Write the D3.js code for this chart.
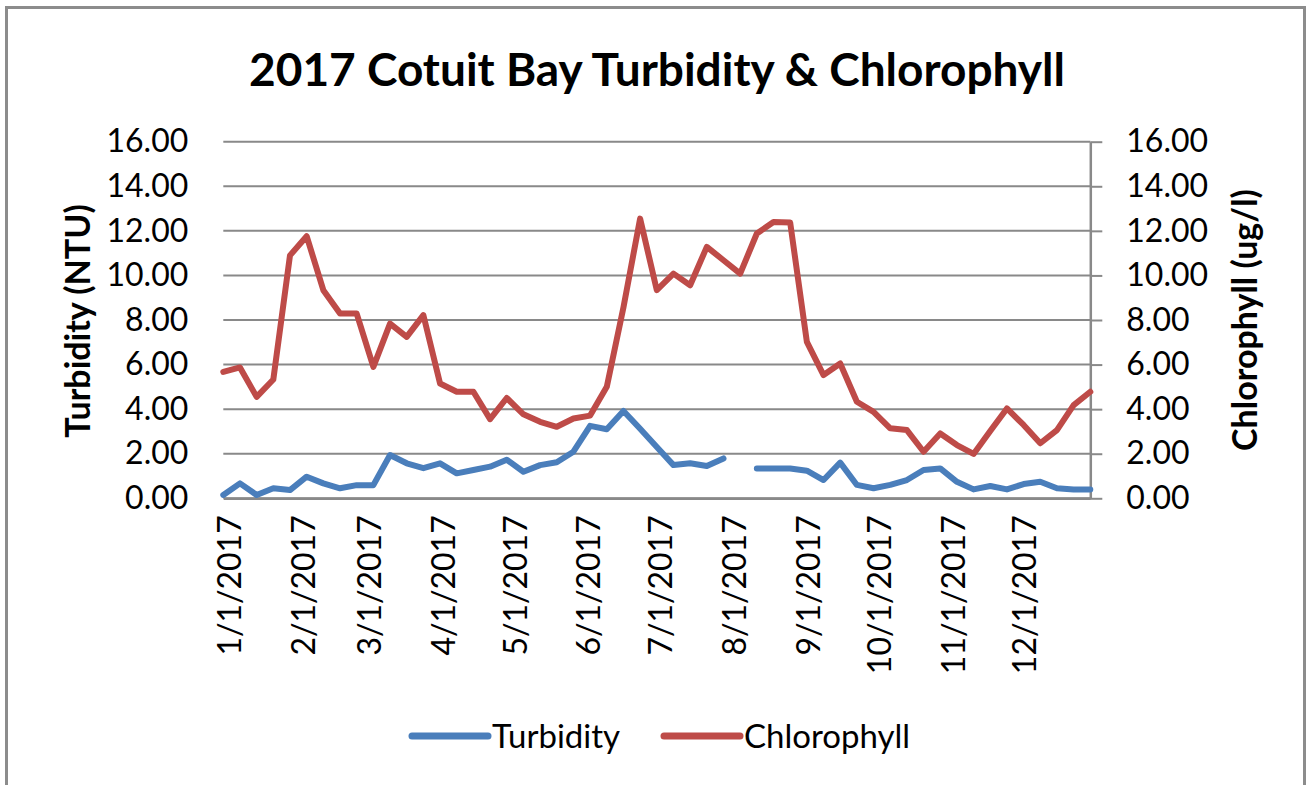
<!DOCTYPE html>
<html><head><meta charset="utf-8">
<script src="https://cdn.jsdelivr.net/npm/d3@7"></script>
<style>body{margin:0;background:#fff} svg{display:block}</style>
</head><body>
<svg id="chart" width="1307" height="785"></svg>
<script>
// ---- data ----
const dates = ["2017-01-01","2017-01-08","2017-01-15","2017-01-22","2017-01-29",
  "2017-02-05","2017-02-12","2017-02-19","2017-02-26",
  "2017-03-05","2017-03-12","2017-03-19","2017-03-26",
  "2017-04-02","2017-04-09","2017-04-16","2017-04-23","2017-04-30",
  "2017-05-07","2017-05-14","2017-05-21","2017-05-28",
  "2017-06-04","2017-06-11","2017-06-18","2017-06-25",
  "2017-07-02","2017-07-09","2017-07-16","2017-07-23","2017-07-30",
  "2017-08-06","2017-08-13","2017-08-20","2017-08-27",
  "2017-09-03","2017-09-10","2017-09-17","2017-09-24",
  "2017-10-01","2017-10-08","2017-10-15","2017-10-22","2017-10-29",
  "2017-11-05","2017-11-12","2017-11-19","2017-11-26",
  "2017-12-03","2017-12-10","2017-12-17","2017-12-24","2017-12-31"];
const turbidity = [0.15,0.67,0.15,0.45,0.37,0.97,0.67,0.45,0.59,0.59,1.94,1.57,1.35,1.57,1.12,1.27,1.42,
  1.73,1.19,1.49,1.62,2.09,3.25,3.10,3.92,3.12,2.30,1.49,1.57,1.45,1.79,null,
  1.34,1.34,1.34,1.24,0.82,1.60,0.60,0.45,0.60,0.82,1.27,1.34,0.74,0.40,0.55,0.40,0.64,0.74,0.45,0.40,0.40];
const chlorophyll = [5.67,5.87,4.55,5.33,10.90,11.76,9.34,8.29,8.29,5.90,7.84,7.24,8.22,5.15,4.78,4.78,3.55,4.50,
  3.77,3.43,3.21,3.58,3.71,5.00,8.57,12.55,9.34,10.08,9.56,11.28,10.68,10.08,11.88,12.40,12.37,
  7.02,5.53,6.05,4.33,3.88,3.14,3.06,2.09,2.91,2.39,1.99,3.02,4.03,3.29,2.47,3.06,4.18,4.78];
const yTicks = [0,2,4,6,8,10,12,14,16];
const monthTicks = ["2017-01-01","2017-02-01","2017-03-01","2017-04-01","2017-05-01","2017-06-01",
  "2017-07-01","2017-08-01","2017-09-01","2017-10-01","2017-11-01","2017-12-01"];
const seriesNames = ["Turbidity","Chlorophyll"];
const titleText = "2017 Cotuit Bay Turbidity & Chlorophyll";
const yLeftTitle = "Turbidity (NTU)";
const yRightTitle = "Chlorophyll (ug/l)";

// ---- setup ----
const parse = d3.utcParse("%Y-%m-%d");
const fmtDate = d => (d.getUTCMonth()+1) + "/" + d.getUTCDate() + "/" + d.getUTCFullYear();
const svg = d3.select("#chart");
const FONT = "Lato, 'Open Sans', sans-serif";
const colors = {Turbidity:"#4a7ebb", Chlorophyll:"#be4b48"};
const gridColor = "#898989";

const L = 223.3, R = 1090.3, T = 141.7, B = 498.3;
const x = d3.scaleUtc().domain([parse(dates[0]), parse(dates[dates.length-1])]).range([L, R]);
const yL = d3.scaleLinear().domain([0,16]).range([B, T]);
const yR = d3.scaleLinear().domain([0,16]).range([B, T]);

// outer border
svg.append("rect").attr("x",6.5).attr("y",7.5).attr("width",1298).attr("height",800)
  .attr("fill","#fff").attr("stroke","#8c8c8c").attr("stroke-width",3);

// title
svg.append("text").attr("x",657).attr("y",86).attr("text-anchor","middle")
  .attr("font-family",FONT).attr("font-weight","bold").attr("font-size",46).attr("fill","#000")
  .text(titleText);

// gridlines
svg.append("g").selectAll("line").data(yTicks).join("line")
  .attr("x1",L).attr("x2",R).attr("y1",d=>yL(d)).attr("y2",d=>yL(d))
  .attr("stroke",gridColor).attr("stroke-width",2);

// left axis (labels only)
const gl = svg.append("g").attr("transform",`translate(${L},0)`)
  .call(d3.axisLeft(yL).tickValues(yTicks).tickFormat(d3.format(".2f")).tickSize(0).tickPadding(35));
gl.select(".domain").remove();
gl.selectAll("text").attr("font-family",FONT).attr("font-size",32).attr("fill","#000");

// right axis
const gr = svg.append("g").attr("transform",`translate(${R},0)`)
  .call(d3.axisRight(yR).tickValues(yTicks).tickFormat(d3.format(".2f")).tickSize(12).tickSizeOuter(0).tickPadding(24));
gr.select(".domain").attr("stroke",gridColor).attr("stroke-width",2.5);
gr.selectAll(".tick line").attr("stroke",gridColor).attr("stroke-width",2);
gr.selectAll("text").attr("font-family",FONT).attr("font-size",32).attr("fill","#000");

// bottom axis
const gb = svg.append("g").attr("transform",`translate(0,${B})`)
  .call(d3.axisBottom(x).tickValues(monthTicks.map(parse)).tickFormat(fmtDate).tickSize(0).tickSizeOuter(0));
gb.select(".domain").attr("stroke",gridColor).attr("stroke-width",2.5);
gb.selectAll(".tick text")
  .attr("font-family",FONT).attr("font-size",32).attr("fill","#000")
  .attr("text-anchor","end")
  .attr("transform","translate(5.5,17) rotate(-90)")
  .attr("x",0).attr("y",0).attr("dy","0.36em");

// axis titles
svg.append("text").attr("transform","translate(78,321) rotate(-90)").attr("text-anchor","middle")
  .attr("dy","0.36em").attr("font-family",FONT).attr("font-weight","bold").attr("font-size",34)
  .text(yLeftTitle);
svg.append("text").attr("transform","translate(1245,320) rotate(-90)").attr("text-anchor","middle")
  .attr("dy","0.36em").attr("font-family",FONT).attr("font-weight","bold").attr("font-size",34)
  .text(yRightTitle);

// lines
const rows = dates.map((d,i)=>({date:parse(d), Turbidity:turbidity[i], Chlorophyll:chlorophyll[i]}));
const scales = {Turbidity:yL, Chlorophyll:yR};
seriesNames.forEach(name=>{
  const line = d3.line().defined(d=>d[name]!=null).x(d=>x(d.date)).y(d=>scales[name](d[name]));
  svg.append("path").datum(rows).attr("d",line).attr("fill","none")
    .attr("stroke",colors[name]).attr("stroke-width",6)
    .attr("stroke-linejoin","round").attr("stroke-linecap","round");
});

// legend
const legendX = [412, 664];
seriesNames.forEach((name,i)=>{
  const g = svg.append("g").attr("transform",`translate(${legendX[i]},736)`);
  g.append("line").attr("x1",0).attr("x2",76).attr("y1",0).attr("y2",0)
    .attr("stroke",colors[name]).attr("stroke-width",7).attr("stroke-linecap","round");
  g.append("text").attr("x",80).attr("y",0).attr("dy","0.36em")
    .attr("font-family",FONT).attr("font-size",33).attr("fill","#000").text(name);
});
</script>
</body></html>
